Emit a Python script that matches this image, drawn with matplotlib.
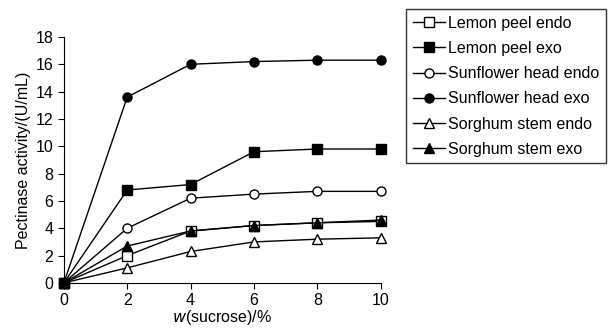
import matplotlib
matplotlib.use('Agg')
import matplotlib.pyplot as plt

plt.rcParams['font.family'] = ['Liberation Sans', 'DejaVu Sans']

# Data
sucrose = [0, 2, 4, 6, 8, 10]
lemon_endo = [0, 2.0, 3.8, 4.2, 4.4, 4.5]
lemon_exo = [0, 6.8, 7.2, 9.6, 9.8, 9.8]
sunflower_endo = [0, 4.0, 6.2, 6.5, 6.7, 6.7]
sunflower_exo = [0, 13.6, 16.0, 16.2, 16.3, 16.3]
sorghum_endo = [0, 1.1, 2.3, 3.0, 3.2, 3.3]
sorghum_exo = [0, 2.7, 3.8, 4.2, 4.4, 4.6]

fig = plt.figure(figsize=(6.14, 3.36), dpi=100)
ax = fig.add_axes([0.104, 0.158, 0.516, 0.732])

# Plot each series
ax.plot(sucrose, lemon_endo, marker='s', mfc='white', label='Lemon peel endo')
ax.plot(sucrose, lemon_exo, marker='s', mfc='black', label='Lemon peel exo')
ax.plot(sucrose, sunflower_endo, marker='o', mfc='white', label='Sunflower head endo')
ax.plot(sucrose, sunflower_exo, marker='o', mfc='black', label='Sunflower head exo')
ax.plot(sucrose, sorghum_endo, marker='^', mfc='white', label='Sorghum stem endo')
ax.plot(sucrose, sorghum_exo, marker='^', mfc='black', label='Sorghum stem exo')
for line in ax.lines:
    line.set_color('black')
    line.set_markeredgecolor('black')
    line.set_markersize(6.5)
    line.set_linewidth(1)
    line.set_clip_on(False)

ax.set_xlim(0, 10)
ax.set_ylim(0, 18)
ax.set_xticks(sucrose)
ax.set_yticks(range(0, 19, 2))
ax.spines['top'].set_visible(False)
ax.spines['right'].set_visible(False)
ax.tick_params(labelsize=11.5, direction='out', length=4)

ax.set_xlabel(r'$\it{w}$(sucrose)/%', fontsize=11.5, labelpad=0)
ax.set_ylabel('Pectinase activity/(U/mL)', fontsize=11.5, labelpad=3)

fig.legend(loc='upper left', bbox_to_anchor=(0.662, 0.972), frameon=True,
           fancybox=False, edgecolor='black', fontsize=11.5, handlelength=2.0,
           handletextpad=0.2, labelspacing=0.64, borderpad=0.4,
           borderaxespad=0)

plt.savefig('out.png', dpi=100)
